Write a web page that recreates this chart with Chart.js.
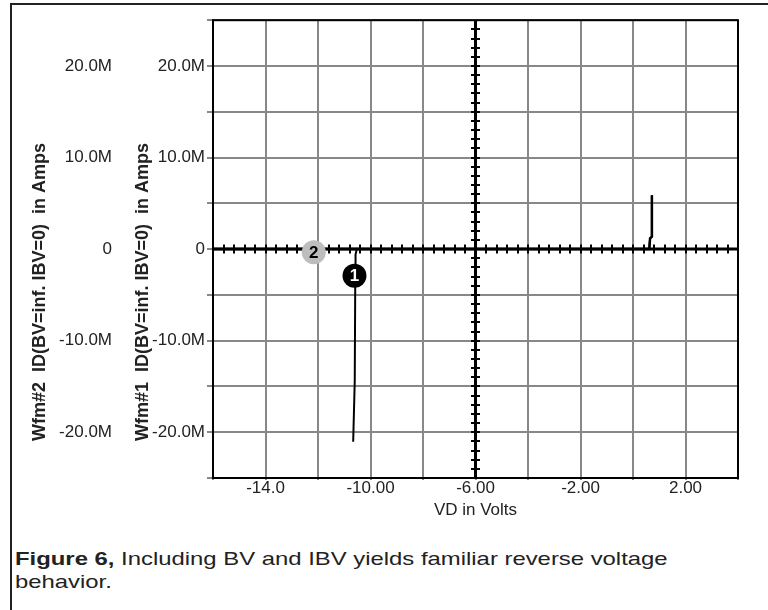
<!DOCTYPE html>
<html lang="en">
<head>
  <meta charset="UTF-8">
  <title>Figure 6</title>
  <script src="https://cdn.jsdelivr.net/npm/chart.js"></script>
  <style>
    body { margin: 0; background: #fff; font-family: 'Liberation Sans', Arial, sans-serif; }
    .frame {
      position: absolute; left: 10px; top: 3px; width: 800px; height: 700px;
      border-left: 2px solid #222; border-top: 2px solid #222;
    }
    #chart { position: absolute; left: 0; top: 0; }
    .caption {
      position: absolute; left: 15px; top: 547px;
      font-size: 18.5px; line-height: 23px; color: #222; white-space: nowrap;
      transform: scaleX(1.29); transform-origin: 0 0;
    }
  </style>
</head>
<body>
  <div class="frame"></div>
  <canvas id="chart" width="768" height="530"></canvas>
  <div class="caption"><b>Figure 6,</b> Including BV and IBV yields familiar reverse voltage<br>behavior.</div>

  <script>
    // VD in volts, ID in units of M (as on the axis)
    const wfm1V = [-10.66, -10.60, -10.58, -10.57, -10.52, 0.62, 0.65, 0.72, 0.72];
    const wfm1I = [-21.05, -14.4, -3.0, -0.6, 0, 0, 1.17, 1.36, 5.88];
    const wfm2V = [-16.0, 0.62, 0.65, 0.72, 0.72];
    const wfm2I = [0, 0, 1.17, 1.36, 5.88];

    const markerNames = ['1', '2'];
    const markerV = [-10.61, -12.16];
    const markerI = [-2.9, -0.35];

    const xTickValues = [-14, -10, -6, -2, 2];
    const xTickLabels = ['-14.0', '-10.00', '-6.00', '-2.00', '2.00'];
    const yTickValues = [20, 10, 0, -10, -20];
    const yTickLabels = ['20.0M', '10.0M', '0', '-10.0M', '-20.0M'];
    const yTitles = ['Wfm#1  ID(BV=inf. IBV=0)  in Amps', 'Wfm#2  ID(BV=inf. IBV=0)  in Amps'];
    const xTitle = 'VD in Volts';

    const toPoints = (xs, ys) => xs.map((x, i) => ({ x: x, y: ys[i] }));

    Chart.defaults.font.family = "'Liberation Sans', Arial, sans-serif";
    Chart.defaults.color = '#222';

    const yLabel = (value) => {
      const i = yTickValues.indexOf(value);
      return i >= 0 ? yTickLabels[i] : '';
    };

    // centre axes, plot frame, waveform tags and the rotated y titles
    const decorations = {
      id: 'decorations',
      beforeDatasetsDraw(chart) {
        const { ctx, chartArea: a, scales: { x, y } } = chart;
        const y0 = y.getPixelForValue(0);
        const x0 = x.getPixelForValue(-6);
        ctx.save();
        ctx.strokeStyle = '#000';
        ctx.lineWidth = 3;
        ctx.beginPath();
        ctx.moveTo(a.left, y0); ctx.lineTo(a.right, y0);
        ctx.moveTo(x0, a.top); ctx.lineTo(x0, a.bottom);
        ctx.stroke();
        ctx.lineWidth = 2;
        ctx.beginPath();
        for (let v = x.min + 0.4; v < x.max; v += 0.4) {
          const px = Math.round(x.getPixelForValue(v));
          ctx.moveTo(px, y0 - 4.5); ctx.lineTo(px, y0 + 4.5);
        }
        for (let v = y.min + 1; v < y.max; v += 1) {
          const py = Math.round(y.getPixelForValue(v));
          ctx.moveTo(x0 - 4.5, py); ctx.lineTo(x0 + 4.5, py);
        }
        ctx.stroke();
        ctx.lineWidth = 2;
        ctx.strokeRect(a.left, a.top, a.right - a.left, a.bottom - a.top);
        ctx.restore();
      },
      afterDatasetsDraw(chart) {
        const { ctx, chartArea: a, scales } = chart;
        const meta = chart.getDatasetMeta(0);
        ctx.save();
        ctx.font = "bold 17px 'Liberation Sans', Arial, sans-serif";
        ctx.textAlign = 'center';
        ctx.textBaseline = 'middle';
        meta.data.forEach((pt, i) => {
          ctx.fillStyle = i === 0 ? '#fff' : '#000';
          ctx.fillText(markerNames[i], pt.x, pt.y + 1);
        });
        ctx.font = "bold 18px 'Liberation Sans', Arial, sans-serif";
        ctx.fillStyle = '#222';
        ctx.textAlign = 'left';
        [[scales.y.left + 21, yTitles[0]], [scales.y2.left + 40, yTitles[1]]].forEach(([tx, text]) => {
          ctx.save();
          ctx.translate(tx, a.bottom - 37);
          ctx.rotate(-Math.PI / 2);
          ctx.fillText(text, 0, 0);
          ctx.restore();
        });
        ctx.restore();
      }
    };

    new Chart(document.getElementById('chart'), {
      type: 'scatter',
      data: {
        datasets: [
          {
            label: 'tags',
            data: toPoints(markerV, markerI),
            yAxisID: 'y',
            pointRadius: 12,
            pointBackgroundColor: ['#000', '#bdbdbd'],
            pointBorderWidth: 0,
            showLine: false
          },
          {
            label: 'Wfm#1',
            data: toPoints(wfm1V, wfm1I),
            yAxisID: 'y',
            showLine: true,
            borderColor: '#000',
            borderWidth: 2,
            pointRadius: 0,
            tension: 0
          },
          {
            label: 'Wfm#2',
            data: toPoints(wfm2V, wfm2I),
            yAxisID: 'y2',
            showLine: true,
            borderColor: '#000',
            borderWidth: 2.5,
            pointRadius: 0,
            tension: 0
          }
        ]
      },
      options: {
        responsive: false,
        animation: false,
        devicePixelRatio: 1,
        layout: { padding: { left: 0, right: 30, top: 17, bottom: 7 } },
        plugins: { legend: { display: false }, tooltip: { enabled: false } },
        scales: {
          x: {
            type: 'linear',
            min: -16,
            max: 4,
            afterFit: (s) => { s.height = 45; },
            border: { display: false },
            grid: { color: '#888', lineWidth: 2, tickLength: 2 },
            ticks: {
              stepSize: 2,
              autoSkip: false,
              maxRotation: 0,
              padding: 0,
              font: { size: 17, lineHeight: 1 },
              callback: (value) => {
                const i = xTickValues.indexOf(value);
                return i >= 0 ? xTickLabels[i] : '';
              }
            },
            title: { display: true, text: xTitle, font: { size: 17 }, padding: { top: 0, bottom: 2 } }
          },
          y: {
            type: 'linear',
            position: 'left',
            weight: 1,
            min: -25,
            max: 25,
            afterFit: (s) => { s.width = 91; },
            border: { display: false },
            grid: { color: '#888', lineWidth: 2, tickLength: 6 },
            ticks: { stepSize: 5, padding: 2, font: { size: 17 }, callback: yLabel }
          },
          y2: {
            type: 'linear',
            position: 'left',
            weight: 2,
            min: -25,
            max: 25,
            afterFit: (s) => { s.width = 122; },
            border: { display: false },
            grid: { display: false, drawTicks: false },
            ticks: { stepSize: 5, padding: 10, font: { size: 17 }, callback: yLabel }
          }
        }
      },
      plugins: [decorations]
    });
  </script>
</body>
</html>
